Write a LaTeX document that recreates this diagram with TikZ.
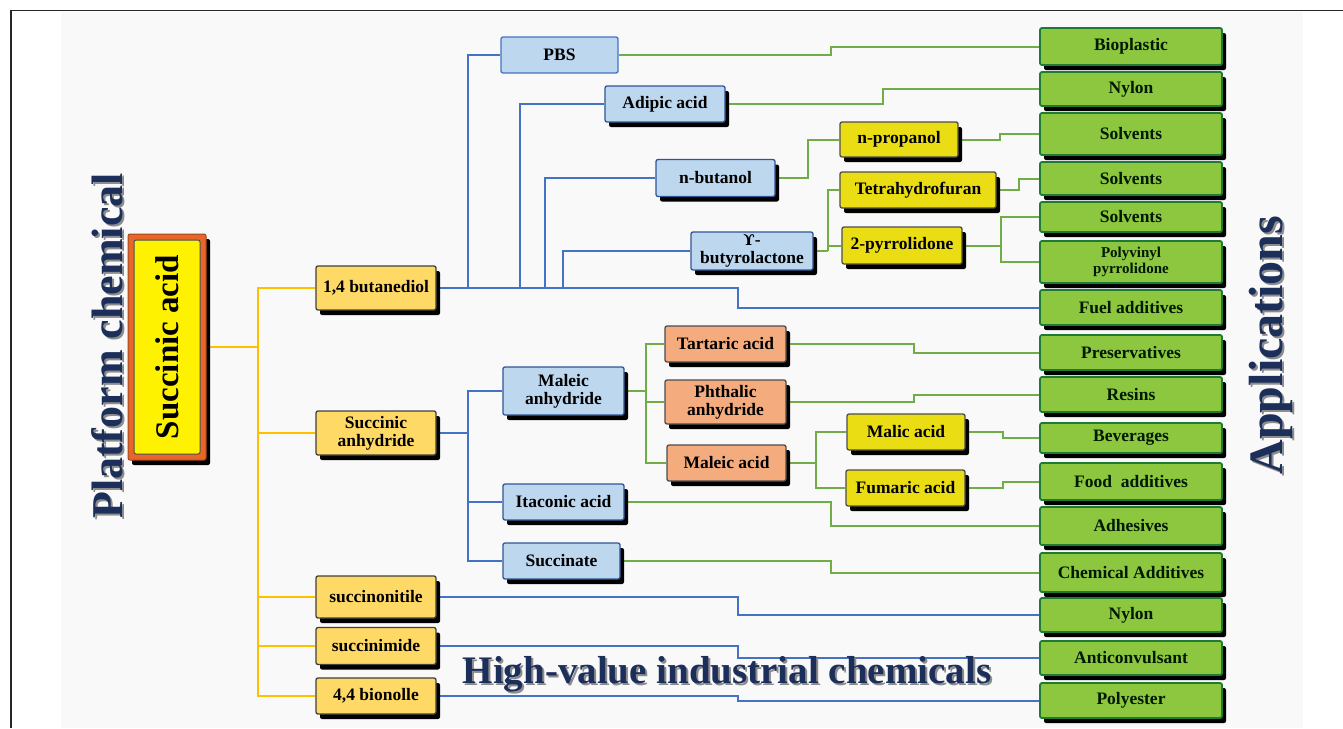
\documentclass[tikz,border=0pt]{standalone}
\usepackage{fontspec}
\setmainfont{Liberation Serif}
\newfontfamily\dvs{DejaVu Serif}
\usetikzlibrary{shadows}
\definecolor{lineblue}{HTML}{4472C4}
\definecolor{linegreen}{HTML}{70AD47}
\definecolor{lineyel}{HTML}{FFC000}
\definecolor{fillcolone}{HTML}{FFD966}
\definecolor{fillblue}{HTML}{BDD7EE}
\definecolor{drawblue}{HTML}{2F5597}
\definecolor{fillyel}{HTML}{EBDD14}
\definecolor{fillor}{HTML}{F4AC7E}
\definecolor{fillgr}{HTML}{8DC63F}
\definecolor{drawgr}{HTML}{1E7B34}
\definecolor{navy}{HTML}{1C2E5A}
\definecolor{pagegray}{HTML}{F9F9F9}
\definecolor{saorange}{HTML}{E8662A}
\definecolor{sayellow}{HTML}{FFF200}
\pgfdeclarelayer{back}
\pgfdeclarelayer{lines}
\pgfsetlayers{back,lines,main}
\begin{document}
\begin{tikzpicture}[x=1pt,y=-1pt,
  box/.style={rounded corners=2pt, line width=1.3pt, inner sep=0pt, align=center,
    font=\bfseries\fontsize{17.5}{18}\selectfont, text=black},
  shad/.style={drop shadow={shadow xshift=4pt, shadow yshift=-5pt, opacity=1, fill=black}},
  c1box/.style={box, shad, fill=fillcolone, draw=black!75, minimum width=120pt},
  bbox/.style={box, shad, fill=fillblue, draw=drawblue},
  bboxflat/.style={box, fill=fillblue, draw=lineblue},
  ybox/.style={box, shad, fill=fillyel, draw=black!70},
  obox/.style={box, shad, fill=fillor, draw=black!70},
  gbox/.style={box, shad, fill=fillgr, draw=drawgr, line width=1.8pt, minimum width=182pt, text=black!90!green},
  bl/.style={draw=lineblue, line width=2pt},
  gl/.style={draw=linegreen, line width=2pt},
  yl/.style={draw=lineyel, line width=2pt},
  titl/.style={font=\bfseries\fontsize{#1}{#1}\selectfont, text=navy, anchor=base},
  titls/.style={font=\bfseries\fontsize{#1}{#1}\selectfont, text=black!45, anchor=base}
]
\useasboundingbox (0,0) rectangle (1343,728);
\begin{pgfonlayer}{back}
  \fill[white] (0,0) rectangle (1343,728);
  \fill[pagegray] (61,12) rectangle (1303,728);
  \draw[black!85, line width=1.4pt] (11,728) -- (11,10.5) -- (1343,10.5);
\end{pgfonlayer}

% Platform chemical
\node[box, shad, fill=saorange, draw=saorange!70!black, line width=1pt, minimum width=78pt, minimum height=226pt] (sao) at (167,347) {};
\node[box, fill=sayellow, draw=black!70, line width=1pt, minimum width=214pt, minimum height=66pt, rotate=90, font=\bfseries\fontsize{33}{33}\selectfont] (sa) at (167,347) {Succinic acid};

% column 1
\node[c1box, minimum height=44pt] (bdo) at (376,288) {1,4 butanediol};
\node[c1box, minimum height=44pt] (san) at (376,433) {Succinic\\anhydride};
\node[c1box, minimum height=42pt] (sn) at (376,597) {succinonitile};
\node[c1box, minimum height=37pt] (si) at (376,646) {succinimide};
\node[c1box, minimum height=36pt] (bio) at (376,696) {4,4 bionolle};

% blue boxes
\node[bboxflat, minimum width=117pt, minimum height=36pt] (pbs) at (559.5,55) {PBS};
\node[bbox, minimum width=120pt, minimum height=36pt] (adi) at (665,104) {Adipic acid};
\node[bbox, minimum width=119pt, minimum height=37pt] (nbu) at (715.5,178) {n-butanol};
\node[bbox, minimum width=122pt, minimum height=38pt] (gbl) at (752,251) {{\dvs\bfseries\fontsize{15}{18}\selectfont ϒ}-\\butyrolactone};
\node[bbox, minimum width=121pt, minimum height=48pt] (ma) at (563.5,391) {Maleic\\anhydride};
\node[bbox, minimum width=121pt, minimum height=36pt] (ita) at (563.5,502) {Itaconic acid};
\node[bbox, minimum width=117pt, minimum height=36pt] (suc) at (561.5,561) {Succinate};

% yellow boxes
\node[ybox, minimum width=118pt, minimum height=35pt] (npr) at (899,139.5) {n-propanol};
\node[ybox, minimum width=156pt, minimum height=36pt] (thf) at (918,190) {Tetrahydrofuran};
\node[ybox, minimum width=120pt, minimum height=37pt] (pyr) at (902,245.5) {2-pyrrolidone};
\node[ybox, minimum width=118pt, minimum height=36pt] (mal) at (906,432) {Malic acid};
\node[ybox, minimum width=119pt, minimum height=36pt] (fum) at (905.5,488) {Fumaric acid};

% orange boxes
\node[obox, minimum width=121pt, minimum height=36pt] (tar) at (725.5,344) {Tartaric acid};
\node[obox, minimum width=121pt, minimum height=44pt] (pht) at (725.5,402) {Phthalic\\anhydride};
\node[obox, minimum width=119pt, minimum height=36pt] (mac) at (726.5,463) {Maleic acid};

% applications
\node[gbox, minimum height=37pt] (a1) at (1131,46.5) {Bioplastic};
\node[gbox, minimum height=34pt] (a2) at (1131,89) {Nylon};
\node[gbox, minimum height=42pt] (a3) at (1131,134) {Solvents};
\node[gbox, minimum height=33pt] (a4) at (1131,178.5) {Solvents};
\node[gbox, minimum height=30pt] (a5) at (1131,217) {Solvents};
\node[gbox, minimum height=42pt, font=\bfseries\fontsize{15}{16}\selectfont] (a6) at (1131,262) {Polyvinyl\\pyrrolidone};
\node[gbox, minimum height=35pt] (a7) at (1131,307.5) {Fuel additives};
\node[gbox, minimum height=35pt] (a8) at (1131,352.5) {Preservatives};
\node[gbox, minimum height=35pt] (a9) at (1131,394.5) {Resins};
\node[gbox, minimum height=30pt] (a10) at (1131,438) {Beverages};
\node[gbox, minimum height=37pt] (a11) at (1131,481.5) {Food\ \ additives};
\node[gbox, minimum height=38pt] (a12) at (1131,526) {Adhesives};
\node[gbox, minimum height=39pt] (a13) at (1131,572.5) {Chemical Additives};
\node[gbox, minimum height=34pt] (a14) at (1131,615) {Nylon};
\node[gbox, minimum height=34pt] (a15) at (1131,658) {Anticonvulsant};
\node[gbox, minimum height=35pt] (a16) at (1131,700.5) {Polyester};

% connectors
\begin{pgfonlayer}{lines}
  % yellow
  \coordinate (ytr) at (258,347);
  \draw[yl] (sao.east) -- (ytr);
  \draw[yl] (ytr) |- (bdo.west);
  \draw[yl] (ytr) |- (san.west);
  \draw[yl] (ytr) |- (sn.west);
  \draw[yl] (ytr) |- (si.west);
  \draw[yl] (ytr) |- (bio.west);
  % blue from butanediol
  \draw[bl] (bdo.east) -- ++(301,0) |- (a7.west);
  \path (bdo.east) ++(31,0) coordinate (j1) ++(52,0) coordinate (j2) ++(25,0) coordinate (j3) ++(18,0) coordinate (j4);
  \draw[bl] (j1) |- (pbs.west);
  \draw[bl] (j2) |- (adi.west);
  \draw[bl] (j3) |- (nbu.west);
  \draw[bl] (j4) |- (gbl.west);
  % blue from succinic anhydride
  \draw[bl] (san.east) -- ++(31,0) coordinate (k1);
  \draw[bl] (k1) |- (ma.west);
  \draw[bl] (k1) |- (ita.west);
  \draw[bl] (k1) |- (suc.west);
  % blue singles
  \draw[bl] (sn.east) -- ++(301,0) |- (a14.west);
  \draw[bl] (si.east) -- ++(301,0) |- (a15.west);
  \draw[bl] (bio.east) -- ++(301,0) |- (a16.west);
  % green
  \draw[gl] (pbs.east) -- ++(212,0) |- (a1.west);
  \draw[gl] (adi.east) -- ++(157,0) |- (a2.west);
  \draw[gl] (nbu.east) -- ++(32,0) |- (npr.west);
  \draw[gl] (npr.east) -- ++(41,0) |- (a3.west);
  \draw[gl] (gbl.east) -- ++(14,0) coordinate (g1);
  \draw[gl] (g1) |- (thf.west);
  \draw[gl] (g1) |- (pyr.west);
  \draw[gl] (thf.east) -- ++(22,0) |- (a4.west);
  \draw[gl] (pyr.east) -- ++(38,0) coordinate (g2);
  \draw[gl] (g2) |- (a5.west);
  \draw[gl] (g2) |- (a6.west);
  \draw[gl] (ma.east) -- ++(21,0) coordinate (g3);
  \draw[gl] (g3) |- (tar.west);
  \draw[gl] (g3) |- (pht.west);
  \draw[gl] (g3) |- (mac.west);
  \draw[gl] (tar.east) -- ++(127,0) |- (a8.west);
  \draw[gl] (pht.east) -- ++(127,0) |- (a9.west);
  \draw[gl] (mac.east) -- ++(29,0) coordinate (g4);
  \draw[gl] (g4) |- (mal.west);
  \draw[gl] (g4) |- (fum.west);
  \draw[gl] (mal.east) -- ++(37,0) |- (a10.west);
  \draw[gl] (fum.east) -- ++(37,0) |- (a11.west);
  \draw[gl] (ita.east) -- ++(206,0) |- (a12.west);
  \draw[gl] (suc.east) -- ++(210,0) |- (a13.west);
\end{pgfonlayer}

% titles
\node[titls=44, rotate=90] (tpcs) at (124,348) {Platform chemical};
\node[titl=44, rotate=90] (tpc) at (122,346) {Platform chemical};
\node[titls=48, rotate=90] (taps) at (1284,347) {Applications};
\node[titl=48, rotate=90] (tap) at (1282,345) {Applications};
\node[titls=39] (thvs) at (729,685) {High-value industrial chemicals};
\node[titl=39] (thv) at (727,683) {High-value industrial chemicals};
\end{tikzpicture}
\end{document}
